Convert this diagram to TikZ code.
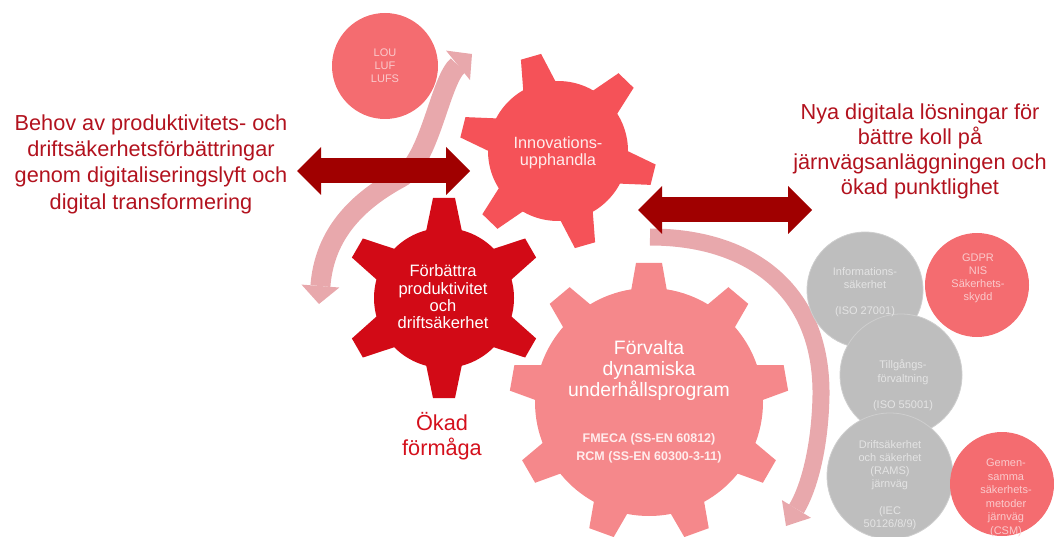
\documentclass[tikz,border=0pt]{standalone}
\usepackage{fontspec}
\setmainfont{Liberation Sans}
\usetikzlibrary{arrows.meta}

\definecolor{headred}{RGB}{178,18,30}
\definecolor{okred}{RGB}{212,16,28}
\definecolor{arrowred}{RGB}{160,0,0}
\definecolor{innogear}{RGB}{245,82,88}
\definecolor{prodgear}{RGB}{210,10,22}
\definecolor{maintgear}{RGB}{245,136,139}
\definecolor{lawdisc}{RGB}{244,108,112}
\definecolor{stddisc}{RGB}{190,190,190}
\definecolor{stdedge}{RGB}{206,206,206}
\definecolor{arcpink}{RGB}{232,168,172}
\definecolor{disctext}{RGB}{250,202,204}
\definecolor{graytext}{RGB}{228,228,228}
\definecolor{gearwhite}{RGB}{255,236,236}

% gear: colour, cx, cy, body radius, tip radius, tip width, base width, tooth angles
\newcommand{\gearshape}[8]{%
  \fill[#1] (#2,#3) circle[radius=#4];
  \foreach \ang in {#8}{%
    \fill[#1, shift={(#2,#3)}, rotate=\ang]
      ({#4-6},{-#7/2}) -- (#5,{-#6/2}) -- (#5,{#6/2}) -- ({#4-6},{#7/2}) -- cycle;
  }%
}

\begin{document}
\begin{tikzpicture}[x=1pt, y=-1pt,
  headline/.style={font=\fontsize{21.7}{26.4}\selectfont, text=headred, align=center, inner sep=0pt},
  geartext/.style={font=\fontsize{16.3}{17.4}\selectfont, text=gearwhite, align=center, inner sep=0pt},
  smalltext/.style={font=\fontsize{11}{13.2}\selectfont, align=center, inner sep=0pt},
  disc/.style={circle, inner sep=0pt, outer sep=0pt, minimum size=#1},
  stddisc/.style={disc=#1, fill=stddisc, draw=stdedge, line width=0.8pt},
  lawdisc/.style={disc=#1, fill=lawdisc},
  bigarrow/.style={draw=arrowred, line width=25pt,
    arrows={Triangle[length=24pt,width=48pt,line width=0pt]-Triangle[length=24pt,width=48pt,line width=0pt]}},
  cyclearrow/.style={draw=arcpink, line width=#1}
]
\useasboundingbox (0,0) rectangle (1054,537);

% end points of the arrows
\coordinate (loopA) at (319,304);
\coordinate (loopB) at (472,54);
\coordinate (arcS) at (650,237);
\coordinate (arcE) at (786,526);
\coordinate (leftA) at (297,171);
\coordinate (leftB) at (470,171);
\coordinate (rightA) at (638,210);
\coordinate (rightB) at (812,210);

% light cycle arrows behind the gears
\draw[cyclearrow=20pt,
  arrows={Triangle[length=18pt,width=38pt,line width=0pt]-Triangle[length=18pt,width=38pt,line width=0pt]}]
  (loopA) .. controls (324,240) and (350,205) .. (400,178)
          .. controls (430,162) and (440,80) .. (loopB);
\draw[cyclearrow=17pt, arrows={-Triangle[length=20pt,width=34pt,line width=0pt]}]
  (arcS) .. controls (750,237) and (822,290) .. (821,395)
         .. controls (820,450) and (808,490) .. (arcE);

% gears
\gearshape{innogear}{558}{151}{70}{98}{21}{35}{-14,46,106,166,226,286}
\gearshape{prodgear}{444}{298}{70}{100}{22}{37}{30,90,150,210,270,330}
\gearshape{maintgear}{649}{402}{114}{139}{26}{37}{10,50,90,130,170,210,250,290,330}

% regulation and standard discs
\node[lawdisc=106pt] (lou) at (385,66) {};
\node[stddisc=116pt] (info) at (865,290) {};
\node[stddisc=122pt] (asset) at (901,375) {};
\node[stddisc=126pt] (rams) at (890,476) {};
\node[lawdisc=104pt] (gdpr) at (977,285) {};
\node[lawdisc=104pt] (csm) at (1002,484) {};

% double arrows
\draw[bigarrow] (leftA) -- (leftB);
\draw[bigarrow] (rightA) -- (rightB);

% headlines
\node[headline] (need) at (151,164) {Behov av produktivitets- och\\driftsäkerhetsförbättringar\\genom digitaliseringslyft och\\digital transformering};
\node[headline, font=\fontsize{21.7}{25}\selectfont] (goal) at (920,151) {Nya digitala lösningar för\\bättre koll på\\järnvägsanläggningen och\\ökad punktlighet};
\node[headline, text=okred, font=\fontsize{21.7}{25}\selectfont] (gain) at (442,436) {Ökad\\förmåga};

% gear labels
\node[geartext] (inno) at (558,153) {Innovations-\\upphandla};
\node[geartext, text=white, font=\fontsize{16.5}{17.3}\selectfont] (prod) at (443,297) {Förbättra\\produktivitet\\och\\driftsäkerhet};
\node[geartext, text=white, font=\fontsize{19.4}{21}\selectfont] (maint) at (649,370) {Förvalta\\dynamiska\\underhållsprogram};
\node[geartext, font=\bfseries\fontsize{12.5}{18}\selectfont] (maintstd) at (649,448) {FMECA (SS-EN 60812)\\RCM (SS-EN 60300-3-11)};

% disc labels
\node[smalltext, text=disctext] (loutext) at (385,66) {LOU\\LUF\\LUFS};
\node[smalltext, text=graytext] (infotext) at (865,292) {Informations-\\säkerhet\\[13.2pt](ISO 27001)};
\node[smalltext, text=disctext] (gdprtext) at (978,278.5) {GDPR\\NIS\\Säkerhets-\\skydd};
\node[smalltext, text=graytext] (assettext) at (903,385.5) {Tillgångs-\\förvaltning\\[13.2pt](ISO 55001)};
\node[smalltext, text=graytext] (ramstext) at (890,485) {Driftsäkerhet\\och säkerhet\\(RAMS)\\järnväg\\[13.2pt](IEC\\50126/8/9)};
\node[smalltext, text=disctext, font=\fontsize{11}{13.6}\selectfont] (csmtext) at (1006,497.7) {Gemen-\\samma\\säkerhets-\\metoder\\järnväg\\(CSM)};

\end{tikzpicture}
\end{document}
